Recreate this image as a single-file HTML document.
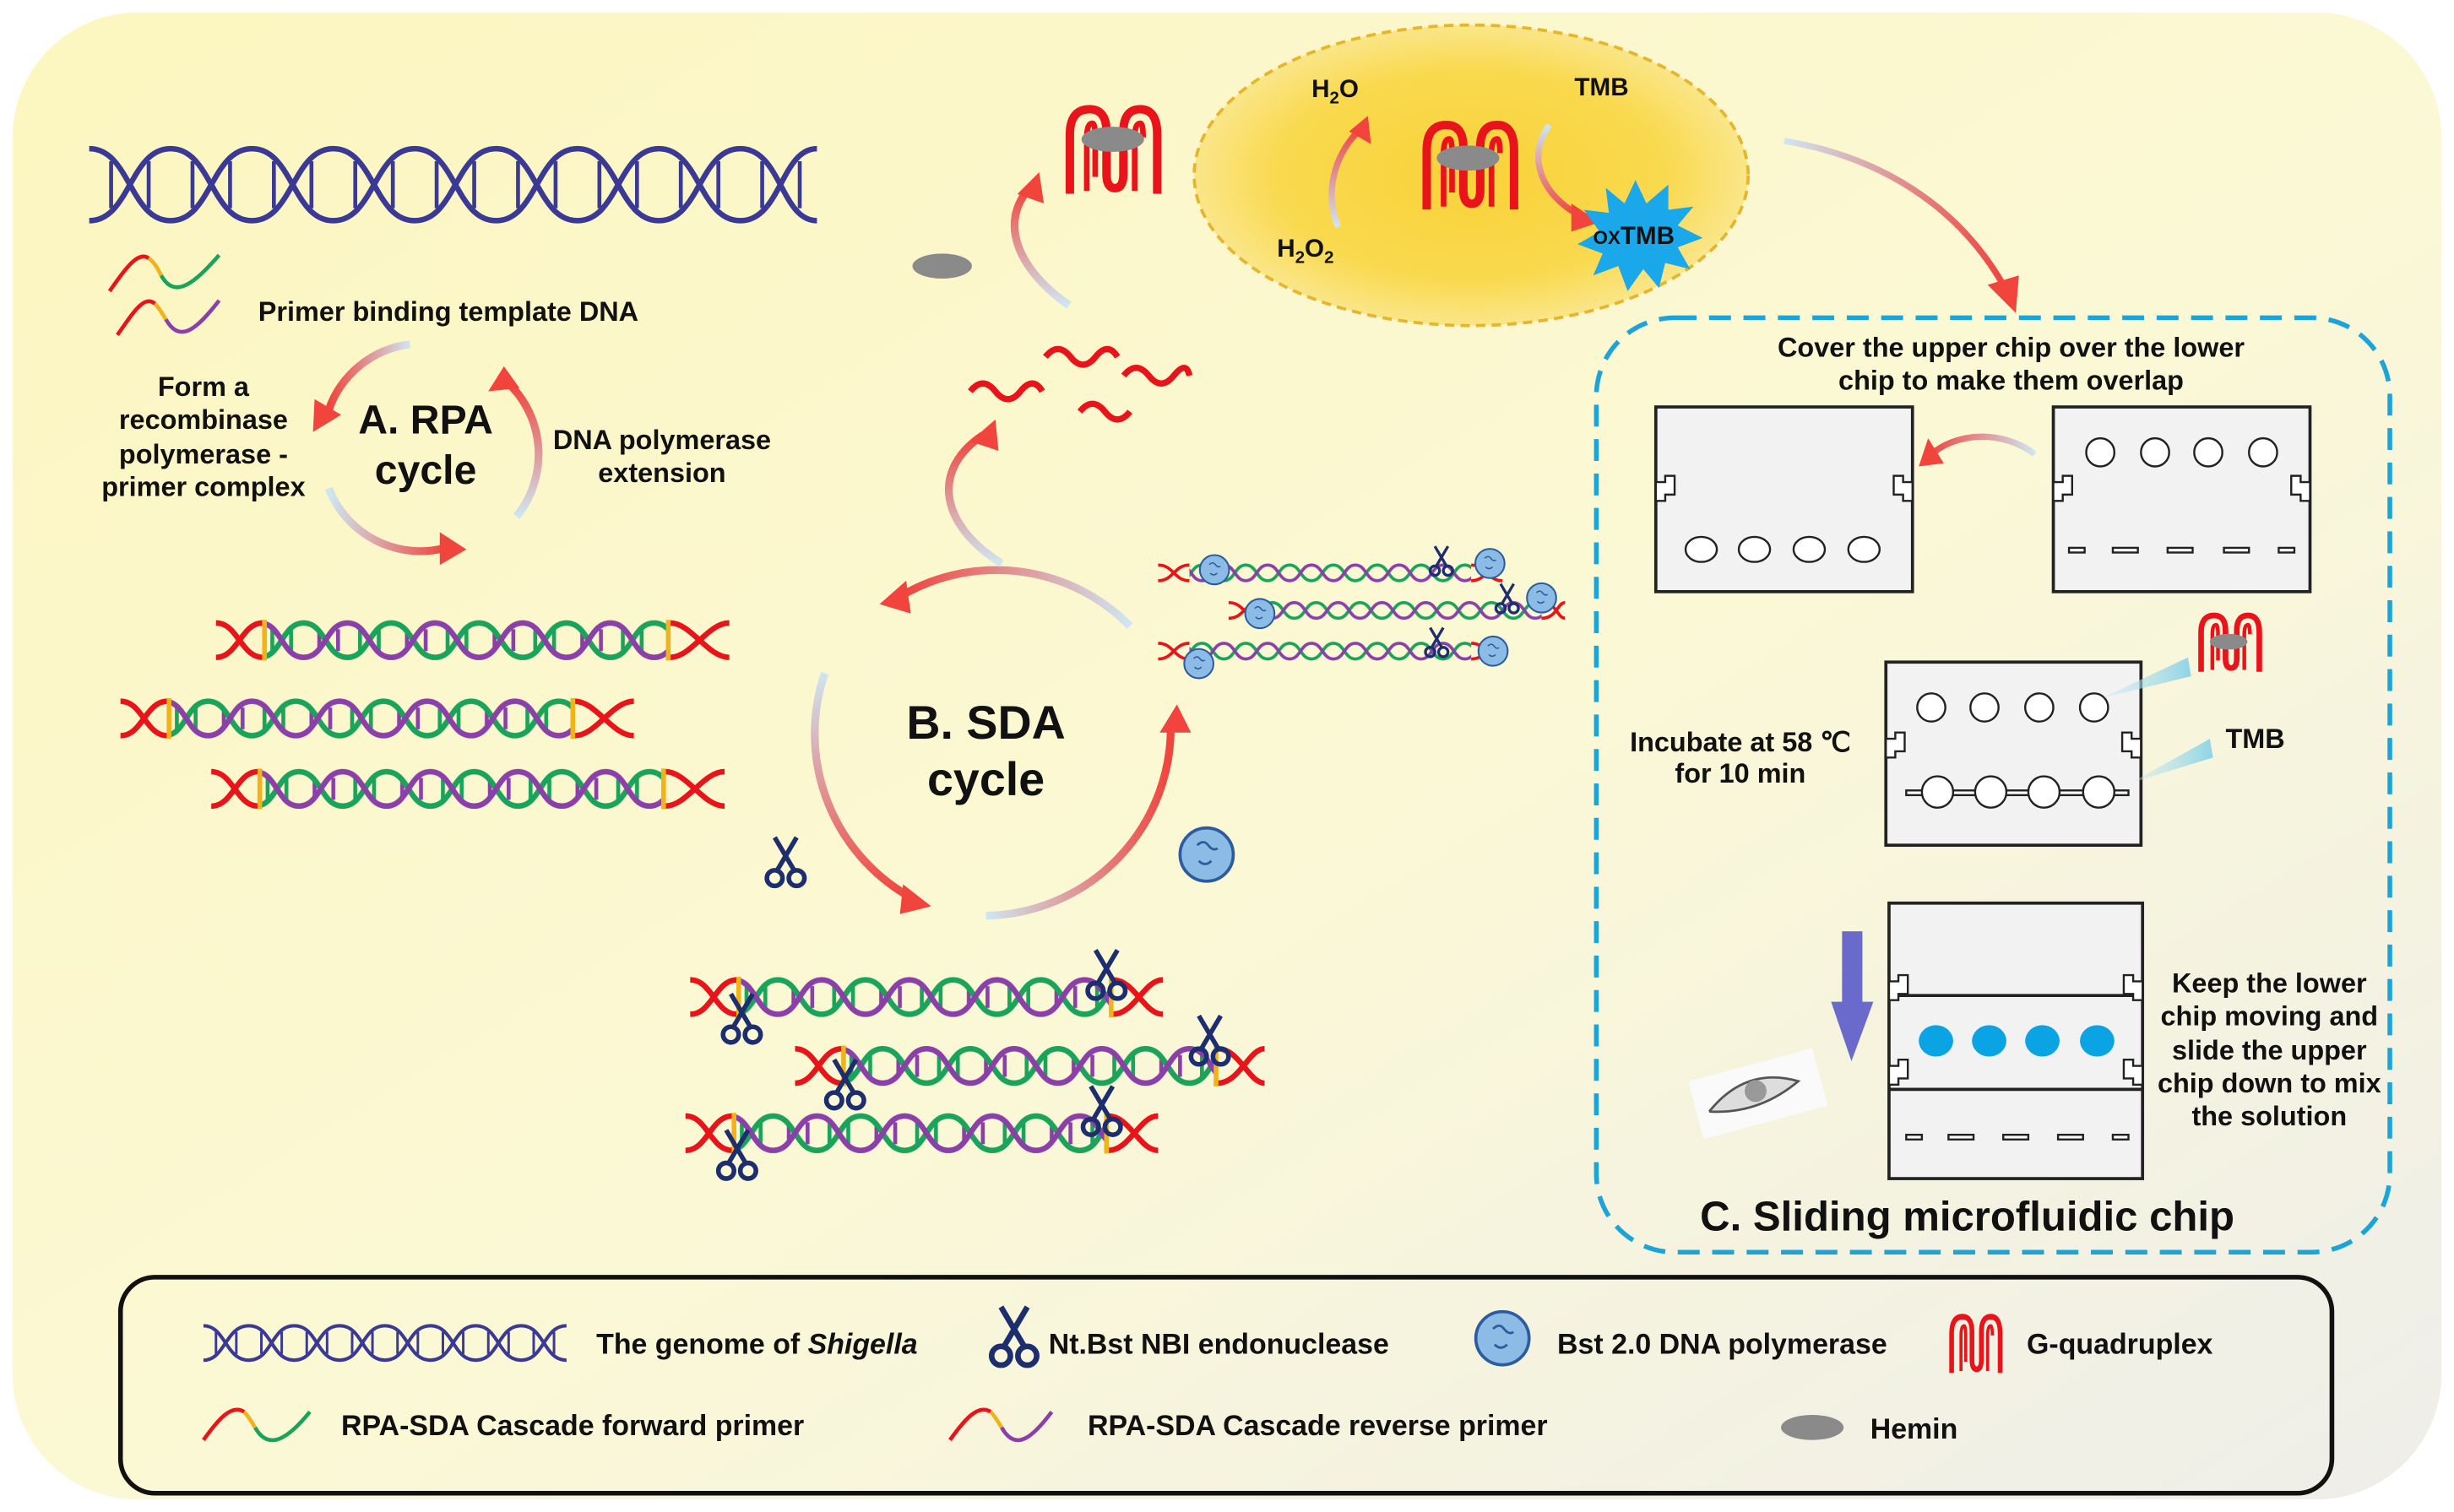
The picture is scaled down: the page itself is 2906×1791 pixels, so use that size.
<!DOCTYPE html>
<html><head><meta charset="utf-8"><style>
html,body{margin:0;padding:0;background:#fff;}
svg{display:block;}
text{font-family:"Liberation Sans",Arial,sans-serif;font-weight:bold;fill:#111;}
</style></head><body>
<svg width="2906" height="1791" viewBox="0 0 1568 966" preserveAspectRatio="none" xmlns="http://www.w3.org/2000/svg">
<defs>
<linearGradient id="bg" x1="0" y1="0" x2="1" y2="1">
<stop offset="0" stop-color="#fcf6bf"/><stop offset="0.55" stop-color="#fbf8d6"/><stop offset="1" stop-color="#eeeeea"/></linearGradient>
<linearGradient id="gx" x1="0" y1="0" x2="1" y2="0"><stop offset="0" stop-color="#cfe6f2"/><stop offset="1" stop-color="#f0443c"/></linearGradient>
<linearGradient id="gxr" x1="0" y1="0" x2="1" y2="0"><stop offset="0" stop-color="#f0443c"/><stop offset="1" stop-color="#cfe6f2"/></linearGradient>
<linearGradient id="gy" x1="0" y1="0" x2="0" y2="1"><stop offset="0" stop-color="#cfe6f2"/><stop offset="1" stop-color="#f0443c"/></linearGradient>
<linearGradient id="gyr" x1="0" y1="0" x2="0" y2="1"><stop offset="0" stop-color="#f0443c"/><stop offset="1" stop-color="#cfe6f2"/></linearGradient>
<radialGradient id="ell" cx="0.5" cy="0.5" r="0.5"><stop offset="0" stop-color="#f9d23a"/><stop offset="0.7" stop-color="#f9d94e"/><stop offset="1" stop-color="#fae68a"/></radialGradient>
<linearGradient id="beam" x1="0" y1="0" x2="1" y2="0"><stop offset="0" stop-color="#bfe6f0" stop-opacity="0.3"/><stop offset="1" stop-color="#8fd4e6"/></linearGradient>
<pattern id="cd" patternUnits="userSpaceOnUse" width="56" height="26">
<path d="M10,6V20M22,6V20" stroke="#8b3fa8" stroke-width="2.5"/>
<path d="M36,6V20M48,6V20" stroke="#1aa35a" stroke-width="2.5"/>
<path d="M0,2 C14,2 14,24 28,24 C42,24 42,2 56,2" fill="none" stroke="#1aa35a" stroke-width="3.5"/>
<path d="M0,24 C14,24 14,2 28,2 C42,2 42,24 56,24" fill="none" stroke="#8b3fa8" stroke-width="3.5"/></pattern>
<pattern id="sd" patternUnits="userSpaceOnUse" width="28" height="12">
<path d="M0,1 C7,1 7,11 14,11 C21,11 21,1 28,1" fill="none" stroke="#1aa35a" stroke-width="2"/>
<path d="M0,11 C7,11 7,1 14,1 C21,1 21,11 28,11" fill="none" stroke="#8b3fa8" stroke-width="2"/></pattern>
<g id="g4"><path d="M4,62 V20 Q4,2 18,2 Q30,2 30,18 V48 Q30,58 36,58 Q42,58 42,48 V18 Q42,2 54,2 Q66,2 66,20 V62" fill="none" stroke="#e8141a" stroke-width="6"/>
<path d="M16,60 V22 Q16,12 20,12 Q22,12 22,22 V50 M50,60 V22 Q50,12 54,12 Q56,12 56,22" fill="none" stroke="#e8141a" stroke-width="4"/></g>
<g id="sc" fill="none" stroke="#1c2e6e" stroke-width="3"><path d="M-7,-15 L6,7 M7,-15 L-6,7"/><circle cx="-7" cy="11" r="5"/><circle cx="7" cy="11" r="5"/></g>
<g id="ball"><circle r="17" fill="#8cbce6" stroke="#2b5c9e" stroke-width="2"/><path d="M-6,-6 q4,-4 7,0 t6,2 M-5,4 q4,4 8,0" fill="none" stroke="#2b5c9e" stroke-width="1.5"/></g>
</defs>

<rect width="1568" height="966" fill="#fff"/>
<rect x="8" y="8" width="1552" height="950" rx="80" fill="url(#bg)"/>

<!-- top DNA -->
<g fill="none" stroke="#3a3a96" stroke-width="3.5">
<path d="M57,95 C83,95 83,141 109,141 S135,95 161,95 S187,141 213,141 S239,95 265,95 S291,141 317,141 S343,95 369,95 S395,141 421,141 S447,95 473,95 S499,141 522,141"/>
<path d="M57,141 C83,141 83,95 109,95 S135,141 161,141 S187,95 213,95 S239,141 265,141 S291,95 317,95 S343,141 369,141 S395,95 421,95 S447,141 473,141 S499,95 522,95"/>
<path stroke-width="2.5" d="M71,103V133M95,103V133M123,103V133M147,103V133M175,103V133M199,103V133M227,103V133M251,103V133M279,103V133M303,103V133M331,103V133M355,103V133M383,103V133M407,103V133M435,103V133M459,103V133M487,103V133M511,103V133"/>
</g>

<!-- primers -->
<g fill="none" stroke-width="2.5">
<path d="M70,186 C80,172 88,160 95,165" stroke="#e8141a"/><path d="M95,165 C99,168 101,172 103,176" stroke="#f2b21a"/><path d="M103,176 C112,192 125,180 140,163" stroke="#1aa35a"/>
<path d="M75,214 C85,200 92,188 99,194" stroke="#e8141a"/><path d="M99,194 C102,197 104,201 106,204" stroke="#f2b21a"/><path d="M106,204 C115,220 126,210 140,192" stroke="#8b3fa8"/>
</g>
<text x="165" y="205" font-size="17.5">Primer binding template DNA</text>

<!-- RPA cycle -->
<g fill="none" stroke-width="5">
<path d="M262,220 A63,63 0 0 0 210,262" stroke="url(#gxr)"/>
<path d="M210,312 A63,63 0 0 0 285,350" stroke="url(#gx)"/>
<path d="M330,330 A63,63 0 0 0 325,245" stroke="url(#gyr)"/>
</g>
<g fill="#f0443c"><polygon points="200,276 201,255 218,265"/><polygon points="281,340 298,351 281,361"/><polygon points="312,250 322,234 332,248"/></g>
<text x="272" y="277" font-size="26" text-anchor="middle">A. RPA</text>
<text x="272" y="309" font-size="26" text-anchor="middle">cycle</text>
<g font-size="17.5" text-anchor="middle"><text x="130" y="253">Form a</text><text x="130" y="274">recombinase</text><text x="130" y="296">polymerase -</text><text x="130" y="317">primer complex</text>
<text x="423" y="287">DNA polymerase</text><text x="423" y="308">extension</text></g>

<!-- colored dsDNA rows -->
<g fill="none" stroke-width="3.5">
<g transform="translate(138,396)"><rect x="30" y="0" width="260" height="26" fill="url(#cd)" stroke="none"/><path d="M0,2 C14,2 16,24 30,24 M0,24 C14,24 16,2 30,2 M290,2 C304,2 314,24 328,24 M290,24 C304,24 314,2 328,2" stroke="#e8141a"/><path d="M31,0V26M289,0V26" stroke="#f2b21a" stroke-width="3"/></g>
<g transform="translate(77,446)"><rect x="30" y="0" width="260" height="26" fill="url(#cd)" stroke="none"/><path d="M0,2 C14,2 16,24 30,24 M0,24 C14,24 16,2 30,2 M290,2 C304,2 314,24 328,24 M290,24 C304,24 314,2 328,2" stroke="#e8141a"/><path d="M31,0V26M289,0V26" stroke="#f2b21a" stroke-width="3"/></g>
<g transform="translate(135,491)"><rect x="30" y="0" width="260" height="26" fill="url(#cd)" stroke="none"/><path d="M0,2 C14,2 16,24 30,24 M0,24 C14,24 16,2 30,2 M290,2 C304,2 314,24 328,24 M290,24 C304,24 314,2 328,2" stroke="#e8141a"/><path d="M31,0V26M289,0V26" stroke="#f2b21a" stroke-width="3"/></g>
<g transform="translate(441,624)"><rect x="30" y="0" width="240" height="26" fill="url(#cd)" stroke="none"/><path d="M0,2 C14,2 16,24 30,24 M0,24 C14,24 16,2 30,2 M270,2 C284,2 290,24 302,24 M270,24 C284,24 290,2 302,2" stroke="#e8141a"/><path d="M31,0V26M269,0V26" stroke="#f2b21a" stroke-width="3"/></g>
<g transform="translate(508,668)"><rect x="30" y="0" width="240" height="26" fill="url(#cd)" stroke="none"/><path d="M0,2 C14,2 16,24 30,24 M0,24 C14,24 16,2 30,2 M270,2 C284,2 290,24 300,24 M270,24 C284,24 290,2 300,2" stroke="#e8141a"/><path d="M31,0V26M269,0V26" stroke="#f2b21a" stroke-width="3"/></g>
<g transform="translate(438,711)"><rect x="30" y="0" width="240" height="26" fill="url(#cd)" stroke="none"/><path d="M0,2 C14,2 16,24 30,24 M0,24 C14,24 16,2 30,2 M270,2 C284,2 290,24 302,24 M270,24 C284,24 290,2 302,2" stroke="#e8141a"/><path d="M31,0V26M269,0V26" stroke="#f2b21a" stroke-width="3"/></g>
</g>
<use href="#sc" transform="translate(474,650)"/><use href="#sc" transform="translate(707,622)"/>
<use href="#sc" transform="translate(540,692)"/><use href="#sc" transform="translate(773,664)"/>
<use href="#sc" transform="translate(471,737)"/><use href="#sc" transform="translate(704,709)"/>

<!-- top right small DNA cluster -->
<g fill="none" stroke-width="2">
<g transform="translate(740,360)"><rect x="20" width="180" height="12" fill="url(#sd)" stroke="none"/><path d="M0,1 C10,1 10,11 20,11 M0,11 C10,11 10,1 20,1 M200,1 C210,1 210,11 220,11 M200,11 C210,11 210,1 220,1" stroke="#e8141a"/></g>
<g transform="translate(785,384)"><rect x="20" width="180" height="12" fill="url(#sd)" stroke="none"/><path d="M0,1 C10,1 10,11 20,11 M0,11 C10,11 10,1 20,1 M200,1 C210,1 210,11 215,11 M200,11 C210,11 210,1 215,1" stroke="#e8141a"/></g>
<g transform="translate(740,410)"><rect x="20" width="180" height="12" fill="url(#sd)" stroke="none"/><path d="M0,1 C10,1 10,11 20,11 M0,11 C10,11 10,1 20,1 M200,1 C210,1 210,11 220,11 M200,11 C210,11 210,1 220,1" stroke="#e8141a"/></g>
</g>
<use href="#ball" transform="translate(776,364) scale(0.55)"/><use href="#ball" transform="translate(952,360) scale(0.55)"/>
<use href="#ball" transform="translate(805,392) scale(0.55)"/><use href="#ball" transform="translate(985,382) scale(0.55)"/>
<use href="#ball" transform="translate(766,424) scale(0.55)"/><use href="#ball" transform="translate(954,416) scale(0.55)"/>
<use href="#sc" transform="translate(921,358) scale(0.6)"/><use href="#sc" transform="translate(963,382) scale(0.6)"/><use href="#sc" transform="translate(918,410) scale(0.6)"/>

<!-- SDA cycle -->
<g fill="none" stroke-width="5">
<path d="M527,430 A120,120 0 0 0 585,575" stroke="url(#gy)"/>
<path d="M630,585 A120,120 0 0 0 748,462" stroke="url(#gx)"/>
<path d="M722,400 A120,120 0 0 0 577,380" stroke="url(#gxr)"/>
<path d="M640,360 C600,335 595,300 628,278" stroke="url(#gyr)"/>
<path d="M683,195 C650,172 638,142 658,120" stroke="url(#gyr)"/>
</g>
<g fill="#f0443c"><polygon points="577,565 595,579 575,584"/><polygon points="741,468 752,450 761,468"/><polygon points="579,371 562,386 582,392"/><polygon points="620,282 636,268 638,288"/><polygon points="650,124 664,110 667,130"/></g>
<text x="630" y="472" font-size="30" text-anchor="middle">B. SDA</text>
<text x="630" y="508" font-size="30" text-anchor="middle">cycle</text>
<use href="#sc" transform="translate(502,550)"/>
<use href="#ball" transform="translate(771,546)"/>
<ellipse cx="602" cy="170" rx="19" ry="8" fill="#8a8a8a"/>
<g fill="none" stroke="#e8141a" stroke-width="4">
<path d="M620,250 q8,-10 16,0 t16,0 t14,0"/><path d="M668,228 q8,-10 16,0 t16,0 t14,0"/><path d="M690,263 q8,-10 16,0 t16,0"/><path d="M718,240 q8,-10 16,0 t16,0 t10,0"/>
</g>
<use href="#g4" transform="translate(680,68) scale(0.9)"/>
<ellipse cx="711" cy="89" rx="20" ry="8" fill="#8a8a8a"/>

<!-- yellow reaction ellipse -->
<ellipse cx="940" cy="112" rx="177" ry="96" fill="url(#ell)" stroke="#e6b52a" stroke-width="2" stroke-dasharray="6,4"/>
<text x="838" y="62" font-size="16">H<tspan font-size="11" dy="4">2</tspan><tspan dy="-4">O</tspan></text>
<text x="816" y="164" font-size="16">H<tspan font-size="11" dy="4">2</tspan><tspan dy="-4">O</tspan><tspan font-size="11" dy="4">2</tspan></text>
<text x="1006" y="61" font-size="16">TMB</text>
<path d="M855,145 C845,120 855,95 870,82" fill="none" stroke="url(#gyr)" stroke-width="4"/>
<polygon points="862,84 874,74 876,92" fill="#f0443c"/>
<path d="M990,80 C975,100 985,125 1010,138" fill="none" stroke="url(#gy)" stroke-width="4"/>
<polygon points="1004,130 1022,142 1004,148" fill="#f0443c"/>
<use href="#g4" transform="translate(908,78) scale(0.9)"/>
<ellipse cx="938" cy="101" rx="20" ry="8" fill="#8a8a8a"/>
<polygon fill="#1aa8ea" points="1045,115 1052,130 1066,118 1066,134 1082,132 1072,144 1088,152 1072,158 1080,172 1064,168 1060,184 1050,172 1040,186 1034,170 1018,176 1024,162 1008,156 1022,148 1012,134 1028,136 1026,120 1038,130"/>
<text x="1018" y="156" font-size="16"><tspan font-size="12">OX</tspan>TMB</text>

<!-- arrow to chip -->
<path d="M1140,90 C1200,100 1250,130 1280,182" fill="none" stroke="url(#gx)" stroke-width="4"/>
<polygon points="1270,182 1288,200 1290,176" fill="#f0443c"/>

<!-- chip box -->
<rect x="1020" y="203" width="507" height="597" rx="50" fill="none" stroke="#1ba4d8" stroke-width="3" stroke-dasharray="14,8"/>
<g font-size="17.5" text-anchor="middle"><text x="1285" y="228">Cover the upper chip over the lower</text><text x="1285" y="249">chip to make them overlap</text>
<text x="1112" y="480">Incubate at 58 ℃</text><text x="1112" y="500">for 10 min</text>
<text x="1450" y="634">Keep the lower</text><text x="1450" y="655">chip moving and</text><text x="1450" y="677">slide the upper</text><text x="1450" y="698">chip down to mix</text><text x="1450" y="719">the solution</text>
<text x="1441" y="478">TMB</text></g>
<text x="1257" y="786" font-size="26.5" text-anchor="middle">C. Sliding microfluidic chip</text>

<g fill="#f2f2f2" stroke="#222" stroke-width="2">
<rect x="1058" y="260" width="164" height="118"/>
<rect x="1312" y="260" width="164" height="118"/>
<rect x="1205" y="423" width="163" height="117"/>
<rect x="1207" y="577" width="162" height="176"/>
</g>
<g fill="none" stroke="#222" stroke-width="2"><path d="M1207,636H1369M1207,696H1369"/></g>
<g fill="#fff" stroke="#222" stroke-width="1.3">
<ellipse cx="1087" cy="351" rx="10" ry="8"/><ellipse cx="1121" cy="351" rx="10" ry="8"/><ellipse cx="1156" cy="351" rx="10" ry="8"/><ellipse cx="1191" cy="351" rx="10" ry="8"/>
<circle cx="1342" cy="289" r="9"/><circle cx="1377" cy="289" r="9"/><circle cx="1411" cy="289" r="9"/><circle cx="1446" cy="289" r="9"/>
<rect x="1322" y="350" width="10" height="3"/><rect x="1350" y="350" width="16" height="3"/><rect x="1385" y="350" width="16" height="3"/><rect x="1421" y="350" width="16" height="3"/><rect x="1456" y="350" width="10" height="3"/>
<circle cx="1234" cy="452" r="9"/><circle cx="1268" cy="452" r="9"/><circle cx="1303" cy="452" r="9"/><circle cx="1338" cy="452" r="9"/>
<rect x="1218" y="505" width="142" height="3"/>
<circle cx="1238" cy="506" r="10"/><circle cx="1272" cy="506" r="10"/><circle cx="1306" cy="506" r="10"/><circle cx="1341" cy="506" r="10"/>
<rect x="1218" y="725" width="10" height="3"/><rect x="1245" y="725" width="16" height="3"/><rect x="1280" y="725" width="16" height="3"/><rect x="1315" y="725" width="16" height="3"/><rect x="1350" y="725" width="10" height="3"/>
<path d="M1058,308h6v-4h6v4h-0v8h-6v4h-6z M1222,308h-6v-4h-6v4v8h6v4h6z M1312,308h6v-4h6v12h-6v4h-6z M1476,308h-6v-4h-6v12h6v4h6z M1205,472h6v-4h6v12h-6v4h-6z M1368,472h-6v-4h-6v12h6v4h6z M1207,627h6v-4h6v12h-6v4h-6z M1369,627h-6v-4h-6v12h6v4h6z M1207,681h6v-4h6v12h-6v4h-6z M1369,681h-6v-4h-6v12h6v4h6z"/>
</g>
<g fill="#0aa4e4"><ellipse cx="1237" cy="665" rx="11" ry="10"/><ellipse cx="1271" cy="665" rx="11" ry="10"/><ellipse cx="1305" cy="665" rx="11" ry="10"/><ellipse cx="1340" cy="665" rx="11" ry="10"/></g>
<path d="M1300,290 C1280,275 1250,275 1232,292" fill="none" stroke="url(#gxr)" stroke-width="4"/>
<polygon points="1226,298 1232,280 1242,296" fill="#f0443c"/>
<polygon points="1343,446 1398,420 1400,432" fill="url(#beam)"/>
<polygon points="1362,500 1412,472 1414,484" fill="url(#beam)"/>
<use href="#g4" transform="translate(1404,392) scale(0.6)"/>
<ellipse cx="1424" cy="410" rx="12" ry="5" fill="#8a8a8a"/>
<rect x="1177" y="595" width="13" height="48" fill="#6a6acc"/>
<polygon points="1170,640 1197,640 1183,678" fill="#6a6acc"/>
<g transform="rotate(-15 1122 698)"><rect x="1082" y="680" width="82" height="38" fill="#fafafa"/><path d="M1090,702 Q1120,680 1150,698 Q1120,712 1090,702" fill="#ddd" stroke="#555" stroke-width="1.5"/><circle cx="1122" cy="697" r="7" fill="#999"/></g>

<!-- legend -->
<rect x="77" y="816" width="1413" height="138" rx="22" fill="none" stroke="#111" stroke-width="3"/>
<g fill="none" stroke="#3a3a96" stroke-width="2.2">
<path d="M130,847 C144,847 144,869 159,869 S173,847 188,847 S202,869 217,869 S231,847 246,847 S260,869 275,869 S289,847 304,847 S318,869 333,869 S347,847 362,847"/>
<path d="M130,869 C144,869 144,847 159,847 S173,869 188,869 S202,847 217,847 S231,869 246,869 S260,847 275,847 S289,869 304,869 S318,847 333,847 S347,869 362,869"/>
<path stroke-width="1.6" d="M138,851V865M151,851V865M167,851V865M180,851V865M196,851V865M209,851V865M225,851V865M238,851V865M254,851V865M267,851V865M283,851V865M296,851V865M312,851V865M325,851V865M341,851V865M354,851V865"/>
</g>
<text x="381" y="865" font-size="18.3">The genome of <tspan font-style="italic">Shigella</tspan></text>
<use href="#sc" transform="translate(648,853) scale(1.2)"/>
<text x="670" y="865" font-size="18.3">Nt.Bst NBI endonuclease</text>
<use href="#ball" transform="translate(960,855)"/>
<text x="995" y="865" font-size="18.3">Bst 2.0 DNA polymerase</text>
<use href="#g4" transform="translate(1245,840) scale(0.5,0.6)"/>
<text x="1295" y="865" font-size="18.3">G-quadruplex</text>
<g fill="none" stroke-width="2.5">
<path d="M130,920 C140,906 148,897 156,902" stroke="#e8141a"/><path d="M156,902 C159,905 161,909 163,912" stroke="#f2b21a"/><path d="M163,912 C172,928 185,918 198,902" stroke="#1aa35a"/>
<path d="M607,920 C617,906 625,897 633,902" stroke="#e8141a"/><path d="M633,902 C636,905 638,909 640,912" stroke="#f2b21a"/><path d="M640,912 C649,928 660,918 672,902" stroke="#8b3fa8"/>
</g>
<text x="218" y="917" font-size="18.3">RPA-SDA Cascade forward primer</text>
<text x="695" y="917" font-size="18.3">RPA-SDA Cascade reverse primer</text>
<ellipse cx="1158" cy="912" rx="20" ry="8" fill="#8a8a8a"/>
<text x="1195" y="919" font-size="18.3">Hemin</text>
</svg>
</body></html>
